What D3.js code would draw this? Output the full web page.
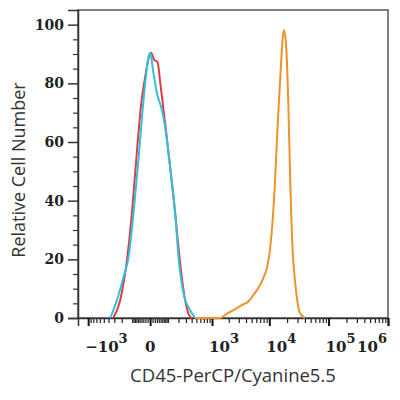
<!DOCTYPE html>
<html>
<head>
<meta charset="utf-8">
<script src="https://cdn.jsdelivr.net/npm/d3@7"></script>
<style>
  html, body { margin: 0; padding: 0; background: #fff; }
  #chart { width: 400px; height: 400px; }
</style>
</head>
<body>
<div id="chart"></div>
<script>
// Histogram data: fluorescence intensity (x) and relative cell number (y)
const redX = [-316, -218, -145, -102, -71, -43, -21, -2, 4, 17, 33, 48, 79, 117, 164, 220, 288, 371, 409];
const redY = [0, 6.1, 19.8, 35.8, 53.9, 71.9, 82.2, 89.7, 90.4, 88.0, 87.3, 80.3, 66.4, 51.6, 35.7, 18.6, 6.1, 0.4, 0];

const blueX = [-367, -261, -180, -130, -90, -57, -29, -6, 0, 14, 30, 58, 79, 117, 164, 200, 264, 371, 471];
const blueY = [0, 6.1, 14.0, 20.8, 35.8, 53.9, 74.3, 89.0, 90.4, 83.5, 76.7, 70.9, 65.1, 51.5, 35.8, 20.8, 8.5, 2.7, 0];

const orangeX = [471, 1401, 1845, 2410, 3371, 4381, 5334, 6495, 7900, 9230, 10260, 11400, 12470, 13640,
                 15150, 16820, 17700, 19130, 20910, 22600, 24810, 27110, 29640, 32930, 40000];
const orangeY = [0, 0, 1.4, 2.7, 4.4, 5.6, 7.8, 10.2, 13.6, 17.5, 23.2, 33.4, 46.0, 63.1,
                 80.1, 94.8, 98.2, 93.8, 74.3, 47.1, 23.2, 13.0, 6.1, 1.7, 0];

// Axis ticks
const xMajorTicks = [-1e3, 0, 1e3, 1e4, 1e5, 1e6];
const xTickBase = ["\u221210", "0", "10", "10", "10", "10"];
const xTickExp = ["3", "", "3", "4", "5", "6"];
const yTicks = [0, 20, 40, 60, 80, 100];

// Set dimensions and margins
var margin = { top: 10, right: 12, bottom: 82, left: 78 },
    width = 400 - margin.left - margin.right,
    height = 400 - margin.top - margin.bottom;

var svg = d3.select("#chart")
    .append("svg")
    .attr("width", 400)
    .attr("height", 400)
    .append("g")
    .attr("transform", "translate(" + margin.left + "," + margin.top + ")");

// Scales (biexponential-like x axis)
var x = d3.scaleSymlog()
    .constant(100)
    .domain([-1530, 1e6])
    .range([0, width]);

var y = d3.scaleLinear()
    .domain([0, 105])
    .range([height, 0]);

// minor ticks
var xMinor = [];
[10, 100, 1000, 1e4, 1e5].forEach(function (d) {
    for (var m = 1; m <= 9; m++) {
        var v = m * d;
        if (xMajorTicks.indexOf(v) < 0) xMinor.push(v);
        if (d <= 100 && xMajorTicks.indexOf(-v) < 0) xMinor.push(-v);
    }
});
xMinor = xMinor.filter(function (v) { return v > x.domain()[0] && v < x.domain()[1]; });
var yMinor = d3.range(5, 100, 5).filter(function (v) { return v % 20 !== 0; });

// Frame
svg.append("rect")
    .attr("x", 0).attr("y", 0)
    .attr("width", width).attr("height", height)
    .attr("fill", "none")
    .attr("stroke", "#555")
    .attr("stroke-width", 1.5);

// X axis
var gxMinor = svg.append("g")
    .attr("transform", "translate(0," + height + ")")
    .call(d3.axisBottom(x).tickValues(xMinor).tickSize(5).tickFormat(""));
var gx = svg.append("g")
    .attr("transform", "translate(0," + height + ")")
    .call(d3.axisBottom(x).tickValues(xMajorTicks).tickSize(8).tickFormat(""));
gxMinor.selectAll("line").attr("stroke", "#222").attr("stroke-width", 1.2);
gx.selectAll("line").attr("stroke", "#111").attr("stroke-width", 2);
gxMinor.select(".domain").remove();
gx.select(".domain").attr("stroke", "#333").attr("stroke-width", 1.5);

// X tick labels with superscripts
xMajorTicks.forEach(function (v, i) {
    var last = i === xMajorTicks.length - 1;
    var anchor = xTickExp[i] === "" ? "middle" : (last ? "end" : "start");
    var px = xTickExp[i] === "" ? x(v) : (last ? x(v) - 1 : x(v) - 3);
    var t = svg.append("text")
        .attr("x", px)
        .attr("y", height + 34)
        .attr("text-anchor", anchor)
        .style("font-family", "'DejaVu Serif', serif")
        .style("font-weight", "bold")
        .style("font-size", "15px")
        .attr("fill", "#222");
    t.append("tspan").text(xTickBase[i]);
    if (xTickExp[i]) {
        t.append("tspan")
            .attr("dy", -9)
            .style("font-size", "13px")
            .text(xTickExp[i]);
    }
});

// Y axis
var gyMinor = svg.append("g")
    .call(d3.axisLeft(y).tickValues(yMinor).tickSize(5).tickFormat(""));
var gy = svg.append("g")
    .call(d3.axisLeft(y).tickValues(yTicks).tickSize(10).tickPadding(4));
gyMinor.select(".domain").remove();
gyMinor.selectAll("line").attr("stroke", "#333").attr("stroke-width", 1.2);
gy.selectAll("line").attr("stroke", "#333").attr("stroke-width", 1.5);
gy.select(".domain").attr("stroke", "#333").attr("stroke-width", 1.5);
gy.selectAll("text")
    .style("font-family", "'DejaVu Serif', serif")
    .style("font-weight", "bold")
    .style("font-size", "14px")
    .attr("fill", "#222");

// Lines
var line = d3.line()
    .x(function (d) { return x(d[0]); })
    .y(function (d) { return y(d[1]); })
    .curve(d3.curveMonotoneX);

var series = [
    { xs: redX, ys: redY, color: "#e23a3f" },
    { xs: orangeX, ys: orangeY, color: "#f0922b" },
    { xs: blueX, ys: blueY, color: "#2cc3e0" }
];
series.forEach(function (s) {
    svg.append("path")
        .datum(d3.zip(s.xs, s.ys))
        .attr("fill", "none")
        .attr("stroke", s.color)
        .attr("stroke-width", 2)
        .attr("stroke-linejoin", "round")
        .attr("d", line);
});

// Axis titles
svg.append("text")
    .attr("text-anchor", "middle")
    .attr("x", width / 2 - 0)
    .attr("y", height + 64)
    .style("font-family", "'Open Sans', sans-serif")
    .style("font-size", "18.5px")
    .attr("fill", "#333")
    .text("CD45-PerCP/Cyanine5.5");

svg.append("text")
    .attr("text-anchor", "middle")
    .attr("transform", "rotate(-90)")
    .attr("x", -(height / 2) - 6)
    .attr("y", -margin.left + 25)
    .style("font-family", "'Open Sans', sans-serif")
    .style("font-size", "18px")
    .attr("fill", "#333")
    .text("Relative Cell Number");
</script>
</body>
</html>
